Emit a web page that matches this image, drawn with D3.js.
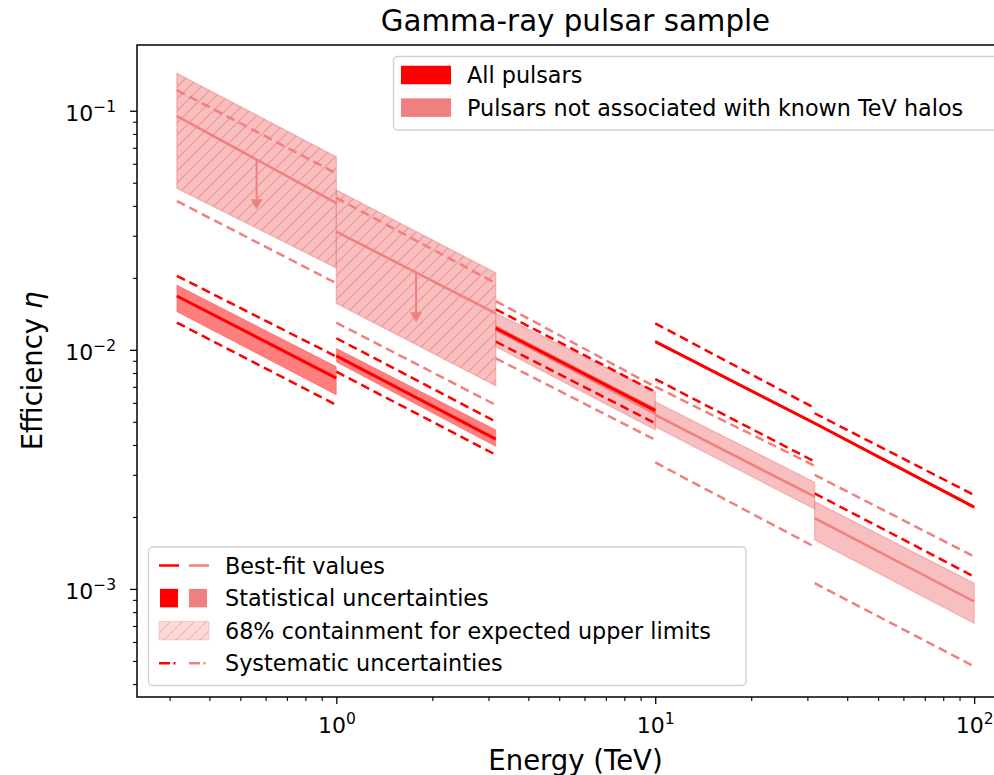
<!DOCTYPE html>
<html>
<head>
<meta charset="utf-8">
<script src="https://cdn.jsdelivr.net/npm/d3@7"></script>
<style>
  body { margin: 0; background: #fff; }
  text { font-family: "DejaVu Sans", sans-serif; fill: #000; }
</style>
</head>
<body>
<svg id="chart" width="994" height="775"></svg>
<script>
// energy bins in TeV
var binLo = [0.3162, 1, 3.162, 10, 31.62];
var binHi = [1, 3.162, 10, 31.62, 100];

// All pulsars - [value at bin start, value at bin end]
var allFit    = [[0.0168, 0.00761], [0.00943, 0.00423], [0.01231, 0.00557], [0.01082, 0.00493], [0.00493, 0.0022]];
var allStatHi = [[0.01867, 0.00851], [0.01015, 0.00463], [0.0126, 0.0057], [0.01095, 0.00499], [0.00499, 0.002225]];
var allStatLo = [[0.01444, 0.00648], [0.0089, 0.00394], [0.0120, 0.0054], [0.0107, 0.00487], [0.00487, 0.002175]];
var allSysHi  = [[0.0204, 0.00937], [0.01118, 0.00501], [0.01478, 0.00667], [0.01291, 0.00571], [0.00543, 0.00247]];
var allSysLo  = [[0.0130, 0.00588], [0.0081, 0.00364], [0.01082, 0.00493], [0.00755, 0.00341], [0.00251, 0.001126]];

// pulsars not associated with known TeV halos
var nhFit    = [[0.0950, 0.0411], [0.0312, 0.01422], [0.0122, 0.0054], [0.00534, 0.00243], [0.001977, 0.000886]];
var nhBandHi = [[0.1433, 0.0642], [0.0466, 0.0210], [0.01422, 0.00669], [0.00607, 0.00279], [0.00232, 0.001057]];
var nhBandLo = [[0.0474, 0.0220], [0.01566, 0.00707], [0.01031, 0.00463], [0.00477, 0.00216], [0.001604, 0.000719]];
var nhSysHi  = [[0.1220, 0.0547], [0.0432, 0.0190], [0.0160, 0.0070], [0.00702, 0.00327], [0.0030, 0.001366]];
var nhSysLo  = [[0.0419, 0.0190], [0.01299, 0.00588], [0.00922, 0.0042], [0.00338, 0.00150], [0.001057, 0.000474]];
var nhUpperLimit = [true, true, false, false, false];

var xTicks = [1, 10, 100];
var yTicks = [1e-3, 1e-2, 1e-1];

var titleText = "Gamma-ray pulsar sample";
var xLabel = "Energy (TeV)";
var yLabel = "Efficiency ";
var legendTop = ["All pulsars", "Pulsars not associated with known TeV halos"];
var legendBottom = ["Best-fit values", "Statistical uncertainties", "68% containment for expected upper limits", "Systematic uncertainties"];

var RED = "#ff0000", LC = "#f08080";
var pL = 137, pR = 1014, pT = 45, pB = 697;

var x = d3.scaleLog().domain([Math.pow(10, -0.625), Math.pow(10, 2.125)]).range([pL, pR]);
var y = d3.scaleLog().domain([Math.pow(10, -3.452), Math.pow(10, -0.725)]).range([pB, pT]);

var svg = d3.select("#chart");
var defs = svg.append("defs");

defs.append("clipPath").attr("id", "plotClip").append("rect")
  .attr("x", pL).attr("y", pT).attr("width", pR - pL).attr("height", pB - pT);

function addHatch(id, op) {
  var p = defs.append("pattern").attr("id", id).attr("patternUnits", "userSpaceOnUse")
    .attr("width", 12).attr("height", 12);
  p.append("path").attr("d", "M-3,3L3,-3M0,12L12,0M9,15L15,9")
    .attr("stroke", LC).attr("stroke-opacity", op).attr("stroke-width", 1.3).attr("fill", "none");
}
addHatch("hatch", 0.6);
addHatch("hatchLeg", 0.35);

var line = d3.line();
function seg(i, v) { return line([[x(binLo[i]), y(v[0])], [x(binHi[i]), y(v[1])]]); }
function band(i, hi, lo) {
  return line([[x(binLo[i]), y(hi[0])], [x(binHi[i]), y(hi[1])],
               [x(binHi[i]), y(lo[1])], [x(binLo[i]), y(lo[0])]]) + "Z";
}

var plot = svg.append("g").attr("clip-path", "url(#plotClip)");
var bins = d3.range(binLo.length);

// pale bands (hatched where only upper limits)
plot.selectAll(".nhBand").data(bins).enter().append("path")
  .attr("d", function(i) { return band(i, nhBandHi[i], nhBandLo[i]); })
  .attr("fill", LC).attr("fill-opacity", 0.5)
  .attr("stroke", LC).attr("stroke-opacity", 0.5).attr("stroke-width", 1.2);
plot.selectAll(".nhHatch").data(bins.filter(function(i) { return nhUpperLimit[i]; })).enter().append("path")
  .attr("d", function(i) { return band(i, nhBandHi[i], nhBandLo[i]); })
  .attr("fill", "url(#hatch)");

// red stat bands
plot.selectAll(".allBand").data(bins).enter().append("path")
  .attr("d", function(i) { return band(i, allStatHi[i], allStatLo[i]); })
  .attr("fill", RED).attr("fill-opacity", 0.5)
  .attr("stroke", RED).attr("stroke-opacity", 0.3).attr("stroke-width", 0.8);

// lines
function drawLines(arr, color, w, dash) {
  plot.append("g").selectAll("path").data(bins).enter().append("path")
    .attr("d", function(i) { return seg(i, arr[i]); })
    .attr("stroke", color).attr("stroke-width", w).attr("fill", "none")
    .attr("stroke-dasharray", dash);
}
drawLines(nhFit, LC, 2.5, null);
drawLines(nhSysHi, LC, 2.5, "9,5");
drawLines(nhSysLo, LC, 2.5, "9,5");
drawLines(allFit, RED, 3, null);
drawLines(allSysHi, RED, 2.5, "9,5");
drawLines(allSysLo, RED, 2.5, "9,5");

// upper limit arrows
var arrowFactor = 0.62;
bins.filter(function(i) { return nhUpperLimit[i]; }).forEach(function(i) {
  var xc = x(Math.sqrt(binLo[i] * binHi[i]));
  var v0 = Math.sqrt(nhFit[i][0] * nhFit[i][1]);
  var y0 = y(v0), y1 = y(v0 * arrowFactor);
  plot.append("line").attr("x1", xc).attr("x2", xc).attr("y1", y0).attr("y2", y1 - 8)
    .attr("stroke", LC).attr("stroke-width", 2);
  plot.append("path").attr("d", "M" + (xc - 6) + "," + (y1 - 10) + "L" + (xc + 6) + "," + (y1 - 10) + "L" + xc + "," + y1 + "Z")
    .attr("fill", LC);
});

// frame
svg.append("rect").attr("x", pL).attr("y", pT).attr("width", pR - pL).attr("height", pB - pT)
  .attr("fill", "none").attr("stroke", "#000").attr("stroke-width", 1.5);

// axes
function powLabel(sel) {
  sel.each(function(d) {
    var e = Math.round(Math.log10(d));
    var t = d3.select(this).text(null);
    t.append("tspan").text("10");
    t.append("tspan").attr("dy", -9).style("font-size", "15.5px").text(e < 0 ? "\u2212" + (-e) : String(e));
  });
}

var xMinor = [], yMinor = [];
[0.1, 1, 10].forEach(function(b) { for (var k = 2; k <= 9; k++) xMinor.push(b * k); });
[1e-4, 1e-3, 1e-2, 1e-1].forEach(function(b) { for (var k = 2; k <= 9; k++) yMinor.push(b * k); });
xMinor = xMinor.filter(function(v) { return x(v) >= pL && x(v) <= pR; });
yMinor = yMinor.filter(function(v) { return y(v) <= pB && y(v) >= pT; });

svg.append("g").attr("transform", "translate(0," + pB + ")")
  .call(d3.axisBottom(x).tickValues(xMinor).tickSize(4).tickSizeOuter(0).tickFormat(""))
  .call(function(g) { g.select(".domain").remove(); g.selectAll("line").attr("stroke-width", 1.1); });
var xa = svg.append("g").attr("transform", "translate(0," + pB + ")")
  .call(d3.axisBottom(x).tickValues(xTicks).tickSize(7).tickSizeOuter(0));
xa.select(".domain").remove();
xa.selectAll("line").attr("stroke-width", 1.3);
xa.selectAll("text").attr("y", 36).attr("dy", null).style("font-size", "22px")
  .style("font-family", "DejaVu Sans").call(powLabel);

svg.append("g").attr("transform", "translate(" + pL + ",0)")
  .call(d3.axisLeft(y).tickValues(yMinor).tickSize(4).tickSizeOuter(0).tickFormat(""))
  .call(function(g) { g.select(".domain").remove(); g.selectAll("line").attr("stroke-width", 1.1); });
var ya = svg.append("g").attr("transform", "translate(" + pL + ",0)")
  .call(d3.axisLeft(y).tickValues(yTicks).tickSize(7).tickSizeOuter(0));
ya.select(".domain").remove();
ya.selectAll("line").attr("stroke-width", 1.3);
ya.selectAll("text").attr("x", -21).attr("y", 10).attr("dy", null).style("font-size", "22px")
  .style("font-family", "DejaVu Sans").call(powLabel);

// titles
svg.append("text").attr("x", (pL + pR) / 2).attr("y", 31).attr("text-anchor", "middle")
  .style("font-size", "29.3px").text(titleText);
svg.append("text").attr("x", (pL + pR) / 2).attr("y", 770).attr("text-anchor", "middle")
  .style("font-size", "27.5px").text(xLabel);
var yl = svg.append("text").attr("transform", "translate(42," + ((pT + pB) / 2) + ") rotate(-90)")
  .attr("text-anchor", "middle").style("font-size", "27.5px");
yl.append("tspan").text(yLabel);
yl.append("tspan").style("font-style", "italic").text("\u03b7");

// legend: upper right
var lg1 = svg.append("g");
lg1.append("rect").attr("x", 393.5).attr("y", 56.5).attr("width", 609).attr("height", 73.5).attr("rx", 4)
  .attr("fill", "#fff").attr("fill-opacity", 0.8).attr("stroke", "#d0d0d0").attr("stroke-width", 1.3);
var lg1Colors = [RED, LC];
legendTop.forEach(function(t, k) {
  var cy = 75 + k * 32.6;
  lg1.append("rect").attr("x", 401).attr("y", cy - 9.25).attr("width", 50).attr("height", 18.5).attr("fill", lg1Colors[k]);
  lg1.append("text").attr("x", 467).attr("y", cy).attr("dy", "0.36em").style("font-size", "22.3px").text(t);
});

// legend: lower left
var lg2 = svg.append("g");
lg2.append("rect").attr("x", 148.5).attr("y", 547).attr("width", 597.5).attr("height", 138.5).attr("rx", 4)
  .attr("fill", "#fff").attr("fill-opacity", 0.8).attr("stroke", "#d0d0d0").attr("stroke-width", 1.3);
var hx0 = 159, hx1 = 209;
legendBottom.forEach(function(t, k) {
  var cy = 565.5 + k * 32.6;
  var g = lg2.append("g");
  if (k === 0) {
    g.append("line").attr("x1", hx0).attr("x2", hx0 + 20).attr("y1", cy).attr("y2", cy).attr("stroke", RED).attr("stroke-width", 2.5);
    g.append("line").attr("x1", hx1 - 20).attr("x2", hx1).attr("y1", cy).attr("y2", cy).attr("stroke", LC).attr("stroke-width", 2.5);
  } else if (k === 1) {
    g.append("rect").attr("x", hx0 + 1).attr("y", cy - 9.25).attr("width", 18).attr("height", 18.5).attr("fill", RED);
    g.append("rect").attr("x", hx1 - 20).attr("y", cy - 9.25).attr("width", 18).attr("height", 18.5).attr("fill", LC);
  } else if (k === 2) {
    g.append("rect").attr("x", hx0).attr("y", cy - 9.25).attr("width", 50).attr("height", 18.5)
      .attr("fill", LC).attr("fill-opacity", 0.3).attr("stroke", LC).attr("stroke-opacity", 0.3);
    g.append("rect").attr("x", hx0).attr("y", cy - 9.25).attr("width", 50).attr("height", 18.5).attr("fill", "url(#hatchLeg)");
  } else {
    g.append("line").attr("x1", hx0).attr("x2", hx0 + 20).attr("y1", cy).attr("y2", cy).attr("stroke", RED)
      .attr("stroke-width", 2.5).attr("stroke-dasharray", "11,3.5,2,10");
    g.append("line").attr("x1", hx1 - 20).attr("x2", hx1).attr("y1", cy).attr("y2", cy).attr("stroke", LC)
      .attr("stroke-width", 2.5).attr("stroke-dasharray", "11,3.5,2,10");
  }
  g.append("text").attr("x", 225).attr("y", cy).attr("dy", "0.36em").style("font-size", "22.3px").text(t);
});
</script>
</body>
</html>
